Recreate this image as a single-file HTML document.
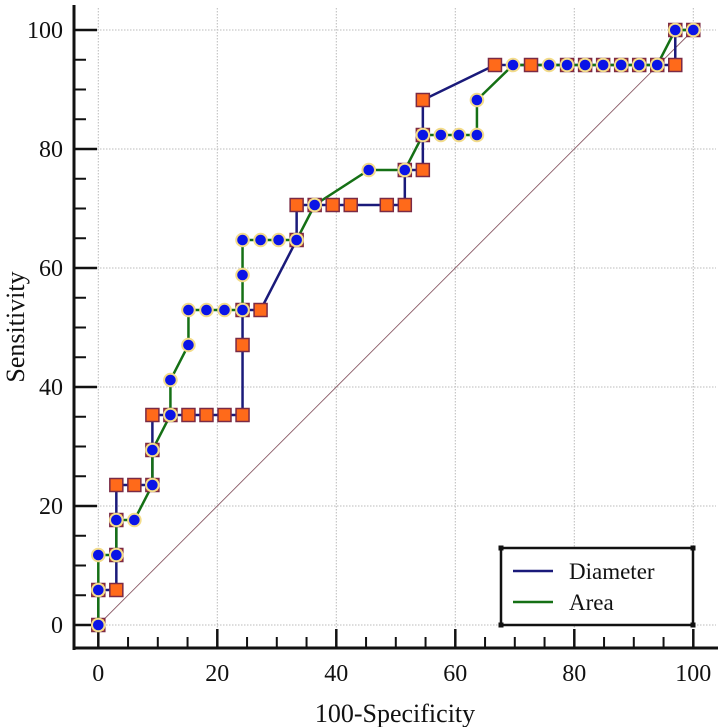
<!DOCTYPE html>
<html><head><meta charset="utf-8"><style>
html,body{margin:0;padding:0;background:#fff;}
svg{display:block;font-family:"Liberation Serif",serif;}
</style></head><body>
<svg id="chart" width="726" height="727" viewBox="0 0 726 727" xmlns="http://www.w3.org/2000/svg"></svg>
<script>
// ROC data: index steps (x in units of 100/33, y in units of 100/17)
const NEG = 33, POS = 17;
const diameterX = [0,0,1,1,1,1,2,3,3,3,4,5,6,7,8,8,8,9,11,11,12,13,14,16,17,17,18,18,18,22,24,26,27,28,29,30,31,32,32,33];
const diameterY = [0,1,1,2,3,4,4,4,5,6,6,6,6,6,6,8,9,9,11,12,12,12,12,12,12,13,13,14,15,16,16,16,16,16,16,16,16,16,17,17];
const areaX = [0,0,0,1,1,2,3,3,4,4,5,5,6,7,8,8,8,9,10,11,12,15,17,18,19,20,21,21,23,25,26,27,28,29,30,31,32,33];
const areaY = [0,1,2,2,3,3,4,5,6,7,8,9,9,9,9,10,11,11,11,11,12,13,13,14,14,14,14,15,16,16,16,16,16,16,16,16,17,17];
const xTicks = [0,20,40,60,80,100];
const yTicks = [0,20,40,60,80,100];
const seriesNames = ["Diameter","Area"];

const NS = "http://www.w3.org/2000/svg";
const svg = document.getElementById('chart');
const X0 = 98.3, X100 = 693.3, Y0 = 625, Y100 = 30;
function sx(v){ return X0 + (X100 - X0) * v / 100; }
function sy(v){ return Y0 - (Y0 - Y100) * v / 100; }
function mk(tag, attrs, parent){ const e = document.createElementNS(NS, tag); for (const k in attrs) e.setAttribute(k, attrs[k]); (parent||svg).appendChild(e); return e; }

// grid
const grid = mk('g', {});


xTicks.forEach(t => { mk('line', {x1:sx(t), x2:sx(t), y1:8, y2:646, stroke:'#bbb', 'stroke-width':1, 'stroke-dasharray':'1.5,1.5'}, grid); });
yTicks.forEach(t => { mk('line', {x1:76, x2:716, y1:sy(t), y2:sy(t), stroke:'#bbb', 'stroke-width':1, 'stroke-dasharray':'1.5,1.5'}, grid); });

// diagonal reference
const diag = mk('line', {x1:sx(0), y1:sy(0), x2:sx(100), y2:sy(100), stroke:'#8a5a66', 'stroke-width':0.9});



// axes
const axes = mk('g', {});


mk('line', {x1:74, x2:74, y1:5, y2:650, stroke:'#111', 'stroke-width':3}, axes);
mk('line', {x1:72.5, x2:718, y1:648, y2:648, stroke:'#111', 'stroke-width':3}, axes);
for (let v = 0; v <= 100; v += 5) {
  const major = v % 20 === 0;
  mk('line', {x1:sx(v), x2:sx(v), y1:648, y2: major ? 629 : 637, stroke:'#111', 'stroke-width': major ? 2.5 : 2}, axes);
  mk('line', {x1:74, x2: major ? 97 : 86, y1:sy(v), y2:sy(v), stroke:'#111', 'stroke-width': major ? 2.5 : 2}, axes);
}
xTicks.forEach(t => {
  const e = mk('text', {x:sx(t), y:681, 'text-anchor':'middle', 'font-size':24, fill:'#111'}, axes);
  e.textContent = t;
  
  
});
yTicks.forEach(t => {
  const e = mk('text', {x:63, y:sy(t)+8, 'text-anchor':'end', 'font-size':24, fill:'#111'}, axes);
  e.textContent = t;
  
  
});
const xt = mk('text', {x:395, y:722, 'text-anchor':'middle', 'font-size':26, fill:'#111'});
xt.textContent = '100-Specificity';


const yt = mk('text', {x:0, y:0, 'text-anchor':'middle', 'font-size':26, fill:'#111', transform:'translate(24,327) rotate(-90)'});
yt.textContent = 'Sensitivity';



function pts(xs, ys){ return xs.map((x,i) => sx(x*100/NEG) + ',' + sy(ys[i]*100/POS)).join(' '); }
const dl = mk('polyline', {points:pts(diameterX, diameterY), fill:'none', stroke:'#1a1a7a', 'stroke-width':2.5});


const al = mk('polyline', {points:pts(areaX, areaY), fill:'none', stroke:'#157015', 'stroke-width':2.5});



const sq = mk('g', {});


diameterX.forEach((x,i) => {
  const cx = sx(x*100/NEG), cy = sy(diameterY[i]*100/POS);
  const r = mk('rect', {x:cx-6.5, y:cy-6.5, width:13, height:13, fill:'#ff6a1a', stroke:'#7a2a45', 'stroke-width':1.5}, sq);
  
  
});
const ci = mk('g', {});


areaX.forEach((x,i) => {
  const c = mk('circle', {cx:sx(x*100/NEG), cy:sy(areaY[i]*100/POS), r:6.3, fill:'#0a14e6', stroke:'#f3dc8a', 'stroke-width':2}, ci);
  
  
});

// legend
const lg = mk('g', {});


mk('rect', {x:501, y:548, width:192, height:77, fill:'#fff', stroke:'#111', 'stroke-width':2.5}, lg);
[[501,548],[693,548],[501,625],[693,625]].forEach(p => mk('rect', {x:p[0]-2.5, y:p[1]-2.5, width:5, height:5, fill:'#111'}, lg));
const cols = ['#1a1a7a', '#157015'];
seriesNames.forEach((n,i) => {
  const y = 571 + i*31;
  mk('line', {x1:513, x2:553, y1:y, y2:y, stroke:cols[i], 'stroke-width':2.5}, lg);
  const t = mk('text', {x:569, y:y+8, 'font-size':23, fill:'#111'}, lg);
  t.textContent = n;
  
  
});
</script>
</body></html>
